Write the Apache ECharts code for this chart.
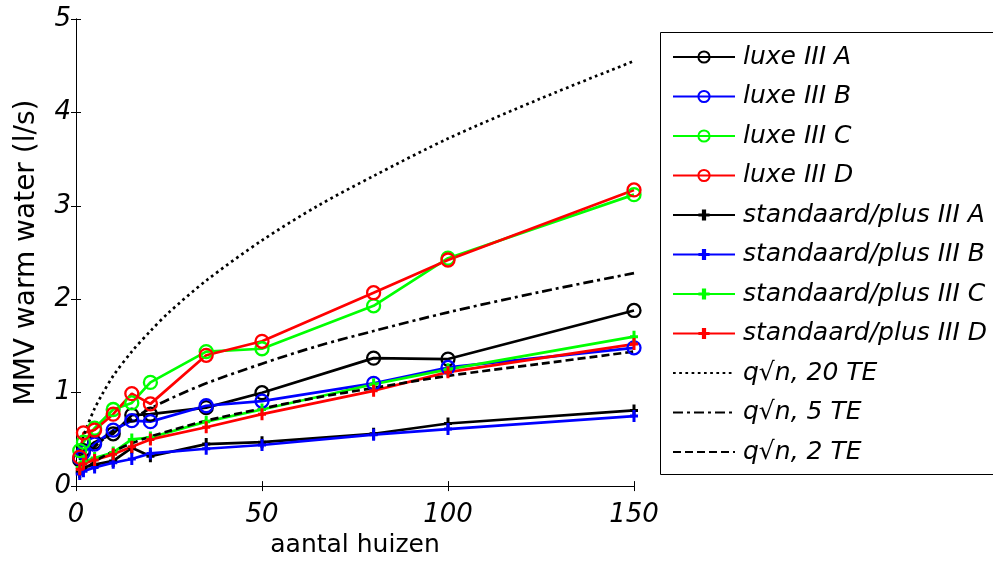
<!DOCTYPE html>
<html>
<head>
<meta charset="utf-8">
<script src="https://cdn.jsdelivr.net/npm/echarts@6/dist/echarts.min.js"></script>
<style>html,body{margin:0;padding:0;background:#fff;overflow:hidden;}#c{width:993px;height:563px;}</style>
</head>
<body>
<div id="c"></div>
<script>
// aantal huizen (x) for the measured series
var houses = [1, 2, 5, 10, 15, 20, 35, 50, 80, 100, 150];
var luxeA = [0.28, 0.38, 0.47, 0.56, 0.76, 0.77, 0.84, 1.00, 1.37, 1.36, 1.88];
var luxeB = [0.30, 0.36, 0.45, 0.60, 0.70, 0.69, 0.86, 0.91, 1.10, 1.27, 1.48];
var luxeC = [0.38, 0.47, 0.62, 0.82, 0.89, 1.11, 1.44, 1.47, 1.93, 2.44, 3.12];
var luxeD = [0.31, 0.57, 0.60, 0.77, 0.99, 0.88, 1.40, 1.55, 2.07, 2.42, 3.17];
var stdA = [0.15, 0.20, 0.23, 0.27, 0.41, 0.32, 0.45, 0.47, 0.56, 0.67, 0.81];
var stdB = [0.13, 0.16, 0.20, 0.25, 0.29, 0.35, 0.40, 0.44, 0.55, 0.61, 0.75];
var stdC = [0.20, 0.26, 0.30, 0.36, 0.50, 0.52, 0.69, 0.82, 1.09, 1.25, 1.60];
var stdD = [0.18, 0.24, 0.28, 0.34, 0.42, 0.50, 0.63, 0.77, 1.02, 1.22, 1.52];
// reference curves q*sqrt(n)
var curveN = [1, 2, 3, 5, 7, 10, 15, 20, 25, 35, 50, 65, 80, 100, 125, 150];
var te20 = [0.37, 0.53, 0.64, 0.83, 0.98, 1.18, 1.44, 1.66, 1.86, 2.20, 2.63, 3.00, 3.32, 3.72, 4.15, 4.55];
var te5 = [0.19, 0.26, 0.32, 0.42, 0.49, 0.59, 0.72, 0.83, 0.93, 1.10, 1.31, 1.50, 1.66, 1.86, 2.08, 2.28];
var te2 = [0.12, 0.17, 0.20, 0.26, 0.31, 0.37, 0.46, 0.53, 0.59, 0.70, 0.83, 0.95, 1.05, 1.18, 1.31, 1.44];
var xTicks = [0, 50, 100, 150];
var yTicks = [0, 1, 2, 3, 4, 5];
var names = ['luxe III A', 'luxe III B', 'luxe III C', 'luxe III D',
  'standaard/plus III A', 'standaard/plus III B', 'standaard/plus III C', 'standaard/plus III D',
  'q\u221An, 20 TE', 'q\u221An, 5 TE', 'q\u221An, 2 TE'];

var FONT = 'DejaVu Sans';
var plusPath = 'path://M2.5,0H5.5V4.5H8V7.5H5.5V12H2.5V7.5H0V4.5H2.5Z';
function zip(xs, ys) { return xs.map(function (x, i) { return [x, ys[i]]; }); }
function luxe(name, ys, col) {
  return { name: name, type: 'line', data: zip(houses, ys), symbol: 'circle', symbolSize: 13,
    itemStyle: { color: 'rgba(255,255,255,0)', borderColor: col, borderWidth: 2.3 },
    lineStyle: { color: col, width: 2.7 }, animation: false };
}
function std(name, ys, col) {
  return { name: name, type: 'line', data: zip(houses, ys), symbol: plusPath, symbolSize: [8, 12],
    itemStyle: { color: col }, lineStyle: { color: col, width: 2.7 }, animation: false };
}
function curve(name, ys, dash) {
  return { name: name, type: 'line', data: zip(curveN, ys), symbol: 'none', smooth: 0.3,
    itemStyle: { color: '#000' }, lineStyle: { color: '#000', width: 2.7, type: dash }, animation: false };
}
var series = [
  luxe(names[0], luxeA, '#000000'), luxe(names[1], luxeB, '#0000ff'),
  luxe(names[2], luxeC, '#00ff00'), luxe(names[3], luxeD, '#ff0000'),
  std(names[4], stdA, '#000000'), std(names[5], stdB, '#0000ff'),
  std(names[6], stdC, '#00ff00'), std(names[7], stdD, '#ff0000'),
  curve(names[8], te20, [2.7, 3.5]), curve(names[9], te5, [10, 4, 3, 4]), curve(names[10], te2, [8, 4])
];
var legendData = names.map(function (n, i) {
  return i >= 8 ? { name: n, itemStyle: { opacity: 0 } } : { name: n };
});
var tickStyle = { show: true, inside: true, length: 5, lineStyle: { color: '#000' } };
var chart = echarts.init(document.getElementById('c'), null, { renderer: 'canvas' });
chart.setOption({
  backgroundColor: '#fff',
  animation: false,
  grid: { left: 76, right: 359, top: 19, bottom: 76 },
  graphic: [{ type: 'polyline',
    shape: { points: [[1100, 32.5], [660.5, 32.5], [660.5, 474.5], [1100, 474.5]] },
    style: { fill: 'none', stroke: '#000', lineWidth: 1 }, z: 10 }],
  legend: {
    data: legendData, orient: 'vertical', left: 660, top: 32, padding: [12, 0, 0, 12],
    itemWidth: 62, itemHeight: 14, itemGap: 13.5,
    textStyle: { fontFamily: FONT, fontStyle: 'italic', fontSize: 25, color: '#000', lineHeight: 26, padding: [0, 0, 0, 3] }
  },
  xAxis: [{
    type: 'value', min: xTicks[0], max: xTicks[xTicks.length - 1], interval: 50,
    name: 'aantal huizen', nameLocation: 'middle', nameGap: 46,
    nameTextStyle: { fontFamily: FONT, fontSize: 25, color: '#000' },
    axisLine: { show: true, lineStyle: { color: '#000', width: 1 } },
    axisTick: tickStyle, splitLine: { show: false },
    axisLabel: { fontFamily: FONT, fontStyle: 'italic', fontSize: 26, color: '#000', margin: 16 }
  }, {
    type: 'value', position: 'top', min: xTicks[0], max: xTicks[xTicks.length - 1], interval: 50,
    axisLine: { show: true, lineStyle: { color: '#000', width: 1 } },
    axisTick: tickStyle, axisLabel: { show: false }, splitLine: { show: false }
  }],
  yAxis: [{
    type: 'value', min: yTicks[0], max: yTicks[yTicks.length - 1], interval: 1,
    name: 'MMV warm water (l/s)', nameLocation: 'middle', nameGap: 35,
    nameTextStyle: { fontFamily: FONT, fontSize: 28, color: '#000' },
    axisLine: { show: true, lineStyle: { color: '#000', width: 1 } },
    axisTick: tickStyle, splitLine: { show: false },
    axisLabel: { fontFamily: FONT, fontStyle: 'italic', fontSize: 26, color: '#000', margin: 5 }
  }, {
    type: 'value', position: 'right', min: yTicks[0], max: yTicks[yTicks.length - 1], interval: 1,
    axisLine: { show: true, lineStyle: { color: '#000', width: 1 } },
    axisTick: tickStyle, axisLabel: { show: false }, splitLine: { show: false }
  }],
  series: series
});
</script>
</body>
</html>
